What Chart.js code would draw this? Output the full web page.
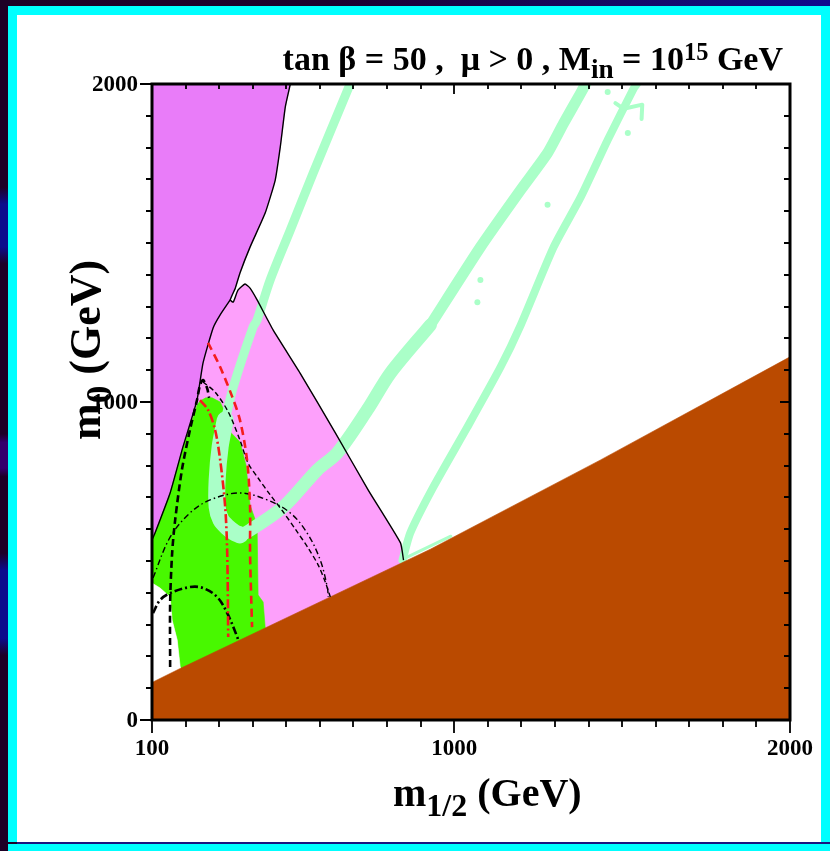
<!DOCTYPE html>
<html>
<head>
<meta charset="utf-8">
<title>tan β = 50, μ > 0, M_in = 10^15 GeV</title>
<script src="https://cdn.jsdelivr.net/npm/chart.js@4.4.1/dist/chart.umd.min.js"></script>
<style>
  html, body { margin:0; padding:0; }
  body { width:830px; height:851px; overflow:hidden; position:relative;
         background: linear-gradient(90deg, #1e0026 0%, #1c002e 40%, #150a66 75%, #100c8e 100%); }
  #leftstrip { position:absolute; left:0; top:0; width:8px; height:851px;
    background: linear-gradient(180deg, #1e0026 0%, #1e0026 22%, #0c0c8c 24%, #0c0c8c 29%, #1e0026 31%,
      #1e0026 51%, #34006c 52%, #34006c 55%, #1e0026 56%, #1e0026 65%, #0c0c8c 67%, #0c0c8c 75%, #1e0026 77%, #1e0026 100%); }
  #panel { position:absolute; left:8px; top:6px; width:804px; height:827px; background:#ffffff;
           border-left:9px solid #00ffff; border-top:9px solid #00ffff; border-right:9px solid #00ffff; }
  #bottomline { position:absolute; left:17px; top:842px; width:813px; height:2px; background:#1a1580; }
  #bottomcyan { position:absolute; left:8px; top:844px; width:822px; height:7px; background:#00ffff; }
  canvas { position:absolute; left:0; top:0; }
  .txt { position:absolute; font-family:"Liberation Serif","Times New Roman",serif; font-weight:bold;
         color:#000; white-space:nowrap; line-height:1; }
  .txt sub { font-size:0.8em; vertical-align:-0.3em; line-height:0; }
  .txt sup { font-size:0.72em; vertical-align:0.42em; line-height:0; }
</style>
</head>
<body>
<div id="leftstrip"></div>
<div id="panel"></div>
<div id="bottomline"></div>
<div id="bottomcyan"></div>
<canvas id="c" width="830" height="851" style="width:830px;height:851px"></canvas>
<div class="txt" id="title" style="right:47px; top:42px; font-size:34px;">tan β = 50 ,&nbsp; μ &gt; 0 , M<sub>in</sub> = 10<sup>15</sup> GeV</div>
<div class="txt" id="xtitle" style="left:393px; top:773px; font-size:40px;">m<sub>1/2</sub> (GeV)</div>
<div class="txt" id="ytitle" style="left:64px; top:440px; font-size:44px; transform-origin:left top; transform:rotate(-90deg);">m<sub>0</sub> (GeV)</div>
<script>
// ---------- axes ----------
const xMin = 100, xMax = 2000, yMin = 0, yMax = 2000;
const xTickValues = [100, 1000, 2000];
const xTickLabels = ['100', '1000', '2000'];
const yTickValues = [0, 1000, 2000];
const yTickLabels = ['0', '1000', '2000'];

// ---------- regions (m1/2, m0 in GeV) ----------
// brown: stau LSP excluded
const stauX = [100, 100, 184, 631, 929, 1436, 2000, 2000];
const stauY = [0, 118, 162, 387, 537, 818, 1142, 0];
// dark violet: top-left excluded region
const violetX = [100, 512, 497, 482, 467, 437, 392, 362, 348, 333, 303, 282, 252, 234, 192, 154, 109, 100];
const violetY = [2000, 2000, 1928, 1802, 1698, 1594, 1487, 1406, 1358, 1321, 1274, 1233, 1123, 1006, 858, 714, 588, 566];
// light pink: g-2 favoured region
const pinkX = [342, 356, 377, 392, 413, 461, 541, 646, 744, 840, 849, 849, 100, 100, 109, 154, 192, 234, 252, 282, 303, 333];
const pinkY = [1314, 1352, 1371, 1358, 1321, 1226, 1091, 903, 723, 557, 503, 450, 50, 566, 588, 714, 858, 1006, 1123, 1233, 1274, 1321];
// green: b -> s gamma excluded
const greenX = [234, 243, 260, 279, 303, 321, 333, 362, 380, 392, 413, 416, 431, 440, 440, 184, 184, 175, 160, 154, 124, 100, 100, 109, 154, 192, 225];
const greenY = [990, 1003, 1013, 1013, 1000, 959, 906, 874, 802, 676, 613, 393, 371, 252, 230, 140, 167, 252, 314, 387, 415, 431, 566, 588, 714, 858, 960];
// white pocket bottom-left
const pocketX = [100, 124, 154, 160, 175, 184, 184, 100];
const pocketY = [431, 415, 387, 314, 252, 167, 100, 100];

// ---------- WMAP (mint) strips ----------
const stripA1X = [690, 580, 512, 452, 413, 401, 342, 318];
const stripA1Y = [2000, 1720, 1541, 1384, 1258, 1236, 1047, 943];
const stripA2X = [318, 303, 294, 294, 305, 324, 345, 362];
const stripA2Y = [943, 860, 755, 670, 630, 607, 590, 582];
const stripA3X = [345, 362, 392, 491, 592, 652, 741, 810, 929];
const stripA3Y = [590, 582, 597, 670, 786, 840, 975, 1091, 1242];
const stripA4X = [929, 1078, 1198, 1278, 1326, 1377, 1391, 1410];
const stripA4Y = [1242, 1487, 1667, 1783, 1877, 1972, 2000, 2040];
const stripBX = [846, 869, 938, 1039, 1138, 1198, 1296, 1377, 1457, 1535, 1544];
const stripBY = [503, 588, 733, 921, 1110, 1242, 1487, 1645, 1824, 1987, 2000];
const seamX = [846, 990];
const seamY = [505, 578];
const forkX = [1480, 1505, 1560, 1558];
const forkY = [1940, 1922, 1935, 1890];
const speckX = [1457, 1517, 1278, 1078, 1069];
const speckY = [1975, 1846, 1620, 1384, 1314];

// ---------- boundary & contour lines ----------
const edge1X = [512, 497, 482, 467, 437, 392, 362, 348, 333, 342, 356, 377, 392, 413, 461, 541, 646, 744, 840, 849];
const edge1Y = [2000, 1928, 1802, 1698, 1594, 1487, 1406, 1358, 1321, 1314, 1352, 1371, 1358, 1321, 1226, 1091, 903, 723, 557, 503];
const edge2X = [333, 303, 282, 252, 234, 192, 154, 109, 100];
const edge2Y = [1321, 1274, 1233, 1123, 1006, 858, 714, 588, 566];
// Higgs mass contours (black thick dashed / thin dashed)
const higgsThickX = [154, 154, 160, 169, 189, 213, 234, 243, 252, 264, 270];
const higgsThickY = [167, 368, 525, 629, 786, 912, 1006, 1053, 1069, 1044, 1013];
const higgsThinX = [252, 288, 327, 362, 386, 416, 452, 491, 529, 565, 595, 616, 631];
const higgsThinY = [1063, 1031, 969, 880, 808, 761, 708, 654, 597, 541, 487, 434, 387];
// chargino / selectron arcs (black dash-dot)
const arcSmallX = [103, 124, 154, 213, 252, 294, 324, 354, 356];
const arcSmallY = [336, 377, 399, 418, 415, 387, 336, 261, 252];
const arcBigX = [103, 154, 213, 273, 362, 443, 512, 562, 601, 622, 625];
const arcBigY = [447, 575, 651, 692, 714, 692, 651, 588, 503, 418, 387];
// g-2 contours (red)
const redDashX = [267, 303, 339, 362, 383, 392, 392, 398];
const redDashY = [1186, 1110, 1016, 943, 818, 670, 525, 292];
const redDotX = [243, 267, 288, 303, 318, 324, 327];
const redDotY = [1006, 975, 912, 818, 670, 525, 261];

// ---------- colours ----------
const cBrown = '#ba4a00', cViolet = '#e97cf9', cPink = '#fda0fb', cGreen = '#48f800',
      cMint = '#aaffc8', cRed = '#f41c1c', cBlack = '#000000';

function pts(xs, ys) { return xs.map((x, i) => ({ x: x, y: ys[i] })); }
function region(xs, ys, color) {
  const p = pts(xs, ys); p.push({ x: xs[0], y: ys[0] });
  return { data: p, showLine: true, fill: 'shape', backgroundColor: color, borderColor: color,
           borderWidth: 0.6, pointRadius: 0, tension: 0, clip: 0 };
}
function curve(xs, ys, color, width, dash, tension, cap) {
  return { data: pts(xs, ys), showLine: true, fill: false, borderColor: color, borderWidth: width,
           borderDash: dash || [], pointRadius: 0, tension: tension || 0,
           borderCapStyle: cap || 'butt', borderJoinStyle: 'round', clip: 0 };
}
function specks(xs, ys, color, r) {
  return { data: pts(xs, ys), showLine: false, pointRadius: r, pointBackgroundColor: color,
           pointBorderWidth: 0, clip: 0 };
}

const datasets = [
  region(pinkX, pinkY, cPink),
  region(violetX, violetY, cViolet),
  region(greenX, greenY, cGreen),
  region(pocketX, pocketY, '#ffffff'),
  curve(stripA1X, stripA1Y, cMint, 9, null, 0.3, 'round'),
  curve(stripA2X, stripA2Y, cMint, 17, null, 0.3, 'round'),
  curve(stripA3X, stripA3Y, cMint, 13, null, 0.3, 'round'),
  curve(stripA4X, stripA4Y, cMint, 11, null, 0.2, 'round'),
  curve(stripBX, stripBY, cMint, 8, null, 0.2, 'round'),
  curve(seamX, seamY, cMint, 3, null, 0, 'round'),
  curve(forkX, forkY, cMint, 4, null, 0, 'round'),
  specks(speckX, speckY, cMint, 3),
  region(stauX, stauY, cBrown),
  curve(edge1X, edge1Y, cBlack, 1.4, null, 0.15),
  curve(edge2X, edge2Y, cBlack, 1.4, null, 0.15),
  curve(arcBigX, arcBigY, cBlack, 1.4, [6, 3, 1.5, 3], 0.35),
  curve(higgsThinX, higgsThinY, cBlack, 1.4, [5, 3], 0.3),
  curve(arcSmallX, arcSmallY, cBlack, 2.6, [8, 3, 2, 3], 0.35),
  curve(higgsThickX, higgsThickY, cBlack, 2.6, [7, 4], 0.3),
  curve(redDotX, redDotY, cRed, 2.6, [9, 3, 2, 3], 0.3),
  curve(redDashX, redDashY, cRed, 2.6, [8, 5], 0.3)
];
// first listed is drawn first (bottom)
datasets.forEach((d, i) => { d.order = datasets.length - i; });

const framePlugin = {
  id: 'frame',
  afterDatasetsDraw(chart) {
    const ctx = chart.ctx;
    const { left, right, top, bottom } = chart.chartArea;
    const xs = chart.scales.x, ys = chart.scales.y;
    ctx.save();
    ctx.strokeStyle = '#000';
    ctx.lineWidth = 1.8;
    ctx.beginPath();
    for (let v = xMin; v <= xMax; v += 100) {
      const p = Math.round(xs.getPixelForValue(v));
      const major = xTickValues.includes(v);
      ctx.moveTo(p, bottom); ctx.lineTo(p, bottom + (major ? 13 : 7));
      ctx.moveTo(p, top); ctx.lineTo(p, top + (major ? 10 : 5));
    }
    for (let v = yMin; v <= yMax; v += 100) {
      const p = Math.round(ys.getPixelForValue(v));
      const major = yTickValues.includes(v);
      ctx.moveTo(left, p); ctx.lineTo(left - (major ? 12 : 6), p);
      ctx.moveTo(right, p); ctx.lineTo(right - (major ? 10 : 6), p);
    }
    ctx.stroke();
    ctx.lineWidth = 3;
    ctx.strokeRect(left, top, right - left, bottom - top);
    ctx.fillStyle = '#000';
    ctx.font = 'bold 23px "Liberation Serif", "Times New Roman", serif';
    ctx.textAlign = 'center';
    ctx.textBaseline = 'middle';
    xTickValues.forEach((v, i) => ctx.fillText(xTickLabels[i], xs.getPixelForValue(v), bottom + 29));
    ctx.textAlign = 'right';
    yTickValues.forEach((v, i) => ctx.fillText(yTickLabels[i], left - 14, ys.getPixelForValue(v) + 1));
    ctx.restore();
  }
};

new Chart(document.getElementById('c').getContext('2d'), {
  type: 'scatter',
  data: { datasets: datasets },
  options: {
    responsive: false,
    animation: false,
    devicePixelRatio: 1,
    events: [],
    layout: { padding: { left: 0, right: 40, top: 84, bottom: 0 } },
    plugins: { legend: { display: false }, tooltip: { enabled: false }, title: { display: false } },
    scales: {
      x: { type: 'linear', min: xMin, max: xMax, grid: { display: false }, border: { display: false },
           ticks: { display: false }, afterFit(s) { s.height = 131; } },
      y: { type: 'linear', min: yMin, max: yMax, grid: { display: false }, border: { display: false },
           ticks: { display: false }, afterFit(s) { s.width = 152; } }
    }
  },
  plugins: [framePlugin]
});
</script>
</body>
</html>
